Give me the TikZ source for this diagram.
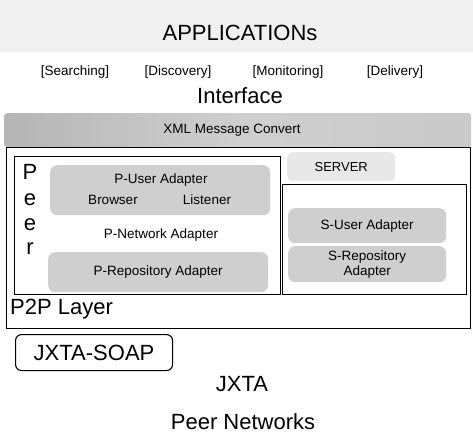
\documentclass[tikz,border=0pt]{standalone}
\usepackage{fontspec}
\setmainfont{Liberation Sans}
\usetikzlibrary{positioning}

\begin{document}
\begin{tikzpicture}[
  x=1pt, y=-1pt,
  big/.style={font=\fontsize{22}{24}\selectfont, inner sep=0pt},
  small/.style={font=\fontsize{13.5}{15}\selectfont, inner sep=0pt, align=center},
  frame/.style={draw, line width=1.1pt, anchor=north west, inner sep=0pt},
  adapter/.style={fill=gray!38, rounded corners=7pt, anchor=north west,
    inner sep=0pt, align=center, font=\fontsize{13.5}{15}\selectfont},
  tag/.style={fill=gray!18, rounded corners=6pt, anchor=north west,
    inner sep=0pt, font=\fontsize{13}{15}\selectfont}
]
\useasboundingbox (0,0) rectangle (473,435);
\fill[gray!12] (0,0) rectangle (473,52);

% application layer
\node[big] (apps) at (240,33) {APPLICATIONs};
\node[small] (search) at (75,72) {[Searching]};
\node[small] (discover) at (178,72) {[Discovery]};
\node[small] (monitor) at (288,72) {[Monitoring]};
\node[small] (deliver) at (395,72) {[Delivery]};
\node[big] (iface) at (240,96) {Interface};

% message conversion band
\node[anchor=north west, minimum width=467pt, minimum height=34pt, inner sep=0pt,
  rounded corners=3pt, left color=gray!58, right color=gray!42, middle color=gray!38]
  (xml) at (4,113) {};
\node[small] (xmltxt) at (232,130) {XML Message Convert};

% P2P layer
\node[frame, minimum width=464pt, minimum height=181pt] (p2p) at (6,147) {};
\node[big, anchor=west] (p2ptxt) at (10,309) {P2P Layer};

% peer side
\node[frame, minimum width=266pt, minimum height=138pt] (peer) at (14,156) {};
\node[big] (pp) at (30,172) {P};
\node[big] (pe1) at (30,200) {e};
\node[big] (pe2) at (30,225) {e};
\node[big] (pr) at (30,249) {r};
\node[adapter, minimum width=220pt, minimum height=50pt] (puser) at (50,165) {};
\node[small] (pusertxt) at (161,180) {P-User Adapter};
\node[small] (browser) at (113,200) {Browser};
\node[small] (listener) at (207,200) {Listener};
\node[small] (pnet) at (161,235) {P-Network Adapter};
\node[adapter, minimum width=220pt, minimum height=40pt] (prepo) at (48,252)
  {P-Repository Adapter};

% server side
\node[tag, minimum width=108pt, minimum height=29pt] (srvtag) at (287,152) {SERVER};
\node[frame, minimum width=184pt, minimum height=110pt] (server) at (282,184) {};
\node[adapter, minimum width=158pt, minimum height=35pt] (suser) at (288,208)
  {S-User Adapter};
\node[adapter, minimum width=158pt, minimum height=36pt] (srepo) at (288,246)
  {S-Repository\\ Adapter};

% transport
\node[draw, line width=1.1pt, rounded corners=6pt, anchor=north west,
  minimum width=157pt, minimum height=36pt, inner sep=0pt, big]
  (soap) at (15,334) {JXTA-SOAP};
\node[big] (jxta) at (242,384) {JXTA};
\node[big] (peernet) at (243,422) {Peer Networks};
\end{tikzpicture}
\end{document}
